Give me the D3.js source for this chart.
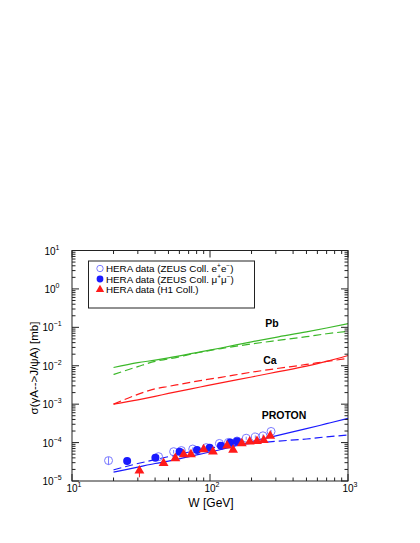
<!DOCTYPE html>
<html><head><meta charset="utf-8">
<script src="https://cdn.jsdelivr.net/npm/d3@7"></script>
<style>
body{margin:0;background:#fff;}
text{font-family:"Liberation Sans",Arial,Helvetica,sans-serif;}
</style></head>
<body><svg id="c" width="420" height="543"></svg>
<script>
// ---- data ----
const eeW   = [18.4, 42.4, 54.5, 62, 75, 94, 117, 136, 157, 183, 213, 242, 277];
const eeS   = [3.4e-5, 4.3e-5, 5.8e-5, 6.2e-5, 6.8e-5, 7.4e-5, 9.5e-5, 1.01e-4, 1.1e-4, 1.3e-4, 1.4e-4, 1.5e-4, 1.95e-4];
const eeE   = [0.8e-5, 0.5e-5, 0.6e-5, 0.6e-5, 0.7e-5, 0.7e-5, 0.9e-5, 1.0e-5, 1.0e-5, 1.2e-5, 1.3e-5, 1.4e-5, 1.8e-5];
const mmW   = [25.1, 40.2, 60.2, 80.5, 99.4, 120, 140, 157];
const mmS   = [3.3e-5, 4.0e-5, 5.8e-5, 6.4e-5, 7.3e-5, 8.3e-5, 1.01e-4, 1.09e-4];
const mmE   = [0.7e-5, 0.5e-5, 0.6e-5, 0.6e-5, 0.7e-5, 0.8e-5, 0.9e-5, 1.0e-5];
const h1W   = [30.8, 46.1, 56.1, 64.4, 72.8, 89.9, 105, 133, 147, 170, 194, 219, 245, 273];
const h1S   = [1.85e-5, 2.9e-5, 3.9e-5, 4.9e-5, 4.9e-5, 6.6e-5, 5.8e-5, 8.3e-5, 6.4e-5, 9.5e-5, 1.05e-4, 1.09e-4, 1.16e-4, 1.5e-4];
const h1E   = [0.6e-5, 0.4e-5, 0.5e-5, 0.5e-5, 0.5e-5, 0.6e-5, 0.6e-5, 0.8e-5, 0.7e-5, 0.9e-5, 1.0e-5, 1.0e-5, 1.1e-5, 1.4e-5];

const curveW      = [20, 30, 40, 50, 85, 120, 200, 300, 500, 700, 1000];
const pbSolid     = [9.0e-3, 1.2e-2, 1.4e-2, 1.6e-2, 2.3e-2, 2.9e-2, 4.2e-2, 5.5e-2, 7.6e-2, 9.6e-2, 1.25e-1];
const pbDashed    = [5.9e-3, 9.5e-3, 1.3e-2, 1.5e-2, 2.25e-2, 2.8e-2, 3.7e-2, 4.5e-2, 5.7e-2, 6.8e-2, 7.9e-2];
const caSolid     = [1.0e-3, 1.3e-3, 1.6e-3, 1.9e-3, 2.8e-3, 3.6e-3, 5.1e-3, 6.8e-3, 9.8e-3, 1.3e-2, 1.85e-2];
const caDashed    = [1.0e-3, 1.8e-3, 2.5e-3, 2.9e-3, 4.1e-3, 5.0e-3, 6.8e-3, 8.4e-3, 1.08e-2, 1.3e-2, 1.55e-2];
const pSolid      = [1.7e-5, 2.3e-5, 2.85e-5, 3.3e-5, 5.0e-5, 6.6e-5, 1.05e-4, 1.5e-4, 2.3e-4, 3.1e-4, 4.25e-4];
const pDashed     = [1.95e-5, 2.85e-5, 3.6e-5, 4.3e-5, 6.5e-5, 7.9e-5, 9.5e-5, 1.08e-4, 1.24e-4, 1.41e-4, 1.57e-4];

const xTicks = [10, 100, 1000];
const yTicks = [1e-5, 1e-4, 1e-3, 1e-2, 1e-1, 1, 10];
const legendLabels = ["HERA data (ZEUS Coll.  e", "HERA data (ZEUS  Coll. \u03bc", "HERA data (H1 Coll.)"];

// ---- layout ----
const L = 72, R = 348, T = 250.5, B = 481;
const x = d3.scaleLog().domain([10, 1000]).range([L, R]);
const y = d3.scaleLog().domain([1e-5, 10]).range([B, T]);
const svg = d3.select("#c");
const GREEN = "#3cb82a", RED = "#ff1a1a", BLUE = "#1a1aff", LBLUE = "#7a7aff";

// curves
const line = d3.line().x(d => x(d[0])).y(d => y(d[1])).curve(d3.curveMonotoneX);
function curve(vals, color, dashed) {
  svg.append("path").datum(curveW.map((w, i) => [w, vals[i]]))
    .attr("d", line).attr("fill", "none").attr("stroke", color)
    .attr("stroke-width", 1.2).attr("stroke-dasharray", dashed ? "8,4" : null);
}
curve(pbSolid, GREEN, false); curve(pbDashed, GREEN, true);
curve(caSolid, RED, false);   curve(caDashed, RED, true);
curve(pSolid, BLUE, false);   curve(pDashed, BLUE, true);

// data points
function errbars(W, S, E, color) {
  svg.append("g").selectAll("line").data(W).join("line")
    .attr("x1", d => x(d)).attr("x2", d => x(d))
    .attr("y1", (d, i) => y(S[i] + E[i])).attr("y2", (d, i) => y(S[i] - E[i]))
    .attr("stroke", color).attr("stroke-width", 1);
}
errbars(eeW, eeS, eeE, LBLUE);
errbars(mmW, mmS, mmE, BLUE);
errbars(h1W, h1S, h1E, RED);
svg.append("g").selectAll("circle").data(eeW).join("circle")
  .attr("cx", d => x(d)).attr("cy", (d, i) => y(eeS[i])).attr("r", 4)
  .attr("fill", "none").attr("stroke", LBLUE).attr("stroke-width", 1);
svg.append("g").selectAll("circle").data(mmW).join("circle")
  .attr("cx", d => x(d)).attr("cy", (d, i) => y(mmS[i])).attr("r", 4)
  .attr("fill", BLUE);
const tri = d3.symbol().type(d3.symbolTriangle).size(42);
svg.append("g").selectAll("path").data(h1W).join("path")
  .attr("transform", (d, i) => `translate(${x(d)},${y(h1S[i])})`)
  .attr("d", tri).attr("fill", RED);

// frame
svg.append("rect").attr("x", L).attr("y", T).attr("width", R - L).attr("height", B - T)
  .attr("fill", "none").attr("stroke", "#222").attr("stroke-width", 1);

// ticks (inward on all sides)
const minorX = [], minorY = [];
for (let e = 1; e < 3; e++) for (let k = 2; k < 10; k++) minorX.push(k * Math.pow(10, e));
for (let e = -5; e < 1; e++) for (let k = 2; k < 10; k++) minorY.push(k * Math.pow(10, e));
const tk = svg.append("g").attr("stroke", "#222").attr("stroke-width", 1);
xTicks.forEach(v => {
  tk.append("line").attr("x1", x(v)).attr("x2", x(v)).attr("y1", B).attr("y2", B - 7);
  tk.append("line").attr("x1", x(v)).attr("x2", x(v)).attr("y1", T).attr("y2", T + 7);
});
minorX.forEach(v => {
  tk.append("line").attr("x1", x(v)).attr("x2", x(v)).attr("y1", B).attr("y2", B - 3.5);
  tk.append("line").attr("x1", x(v)).attr("x2", x(v)).attr("y1", T).attr("y2", T + 3.5);
});
yTicks.forEach(v => {
  tk.append("line").attr("y1", y(v)).attr("y2", y(v)).attr("x1", L).attr("x2", L + 7);
  tk.append("line").attr("y1", y(v)).attr("y2", y(v)).attr("x1", R).attr("x2", R - 7);
});
minorY.forEach(v => {
  tk.append("line").attr("y1", y(v)).attr("y2", y(v)).attr("x1", L).attr("x2", L + 3.5);
  tk.append("line").attr("y1", y(v)).attr("y2", y(v)).attr("x1", R).attr("x2", R - 3.5);
});

// tick labels
function powLabel(g, v, px, py, anchor) {
  const e = Math.round(Math.log10(v));
  const t = g.append("text").attr("x", px).attr("y", py).attr("text-anchor", anchor)
    .attr("font-size", 10).attr("fill", "#000");
  t.append("tspan").text("10");
  t.append("tspan").attr("dy", -5).attr("font-size", 7).text(String(e).replace("-", "\u2212"));
}
yTicks.forEach(v => powLabel(svg, v, 52, y(v) + 4, "middle"));
xTicks.forEach(v => powLabel(svg, v, x(v) + 2, B + 11, "middle"));

// axis titles
svg.append("text").attr("x", 211).attr("y", 507).attr("text-anchor", "middle")
  .attr("font-size", 12).text("W [GeV]");
svg.append("text").attr("transform", "translate(38,368) rotate(-90)")
  .attr("text-anchor", "middle").attr("font-size", 11.5).text("\u03c3(\u03b3A-->J/\u03c8A) [mb]");

// curve labels
[["Pb", 272, 327], ["Ca", 270, 364], ["PROTON", 284, 419]].forEach(d => {
  svg.append("text").attr("x", d[1]).attr("y", d[2]).attr("text-anchor", "middle")
    .attr("font-size", 10.5).attr("font-weight", "bold").text(d[0]);
});

// legend
svg.append("rect").attr("x", 88.5).attr("y", 261).attr("width", 166).attr("height", 47)
  .attr("fill", "#fff").attr("stroke", "#222").attr("stroke-width", 1);
const ly = [268.5, 279, 289.5];
svg.append("circle").attr("cx", 100).attr("cy", ly[0]).attr("r", 3.2)
  .attr("fill", "none").attr("stroke", LBLUE);
svg.append("circle").attr("cx", 100).attr("cy", ly[1]).attr("r", 3.4).attr("fill", BLUE);
svg.append("path").attr("transform", `translate(100,${ly[2]})`)
  .attr("d", d3.symbol().type(d3.symbolTriangle).size(30)).attr("fill", RED);
legendLabels.forEach((s, i) => {
  const t = svg.append("text").attr("x", 106).attr("y", ly[i] + 3.5).attr("font-size", 9.8);
  t.append("tspan").text(s);
  if (i === 0) {
    t.append("tspan").attr("dy", -4).attr("font-size", 6.5).text("+");
    t.append("tspan").attr("dy", 4).text("e");
    t.append("tspan").attr("dy", -4).attr("font-size", 6.5).text("\u2212");
    t.append("tspan").attr("dy", 4).text(")");
  } else if (i === 1) {
    t.append("tspan").attr("dy", -4).attr("font-size", 6.5).text("+");
    t.append("tspan").attr("dy", 4).text("\u03bc");
    t.append("tspan").attr("dy", -4).attr("font-size", 6.5).text("\u2212");
    t.append("tspan").attr("dy", 4).text(")");
  }
});
</script></body></html>
